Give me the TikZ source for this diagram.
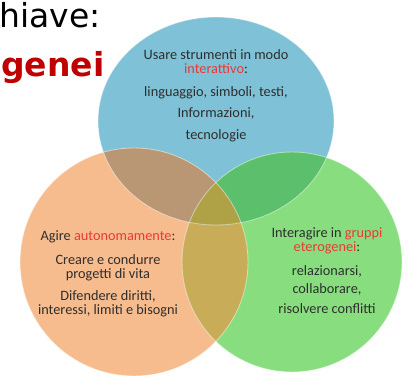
\documentclass[tikz,border=0pt]{standalone}
\usepackage{fontspec}
\setmainfont{Carlito}
\newfontfamily\titlefont{DejaVu Sans}
\usepackage{xcolor}
\definecolor{ink}{HTML}{2E2E2E}
\definecolor{keyword}{HTML}{E63B36}
\definecolor{titlered}{HTML}{C00000}
\definecolor{skyfill}{HTML}{7FC1D6}
\definecolor{peach}{HTML}{F7BC8E}
\definecolor{leaf}{HTML}{88DE7F}
\definecolor{skypeach}{HTML}{B99774}
\definecolor{skyleaf}{HTML}{5BBF6B}
\definecolor{peachleaf}{HTML}{C9AC58}
\definecolor{allthree}{HTML}{AEA146}
\usetikzlibrary{positioning}
\tikzset{
  rim/.style={draw=white, draw opacity=0.45, line width=0.9pt},
  said/.style={align=center, text=ink, inner sep=0pt, anchor=north,
    font=\fontsize{14.3}{14}\selectfont},
  heading/.style={inner sep=0pt, anchor=base west, font=\titlefont\fontsize{33}{36}\selectfont},
}
\newcommand{\kw}[1]{\textcolor{keyword}{#1}}

\begin{document}
\begin{tikzpicture}[x=1pt, y=-1pt]
  \useasboundingbox (0,0) rectangle (411,379);
  \coordinate (sky) at (216,121);
  \coordinate (sun) at (134,262);
  \coordinate (meadow) at (292,262);

  \fill[skyfill] (sky) ellipse [x radius=118pt, y radius=104pt];
  \fill[peach] (sun) circle [radius=114pt];
  \fill[leaf] (meadow) circle [radius=110pt];
  \begin{scope}
    \clip (sun) circle [radius=114pt];
    \fill[peachleaf] (meadow) circle [radius=110pt];
  \end{scope}
  \begin{scope}
    \clip (sky) ellipse [x radius=118pt, y radius=104pt];
    \fill[skypeach] (sun) circle [radius=114pt];
    \fill[skyleaf] (meadow) circle [radius=110pt];
    \clip (sun) circle [radius=114pt];
    \fill[allthree] (meadow) circle [radius=110pt];
  \end{scope}
  \draw[rim] (sky) ellipse [x radius=118pt, y radius=104pt];
  \draw[rim] (sun) circle [radius=114pt];
  \draw[rim] (meadow) circle [radius=110pt];

  \node[said] (strumenti) at (216,49) {Usare strumenti in modo\\
    \kw{interattivo}:\\[9pt] linguaggio, simboli, testi,\\[7pt]
    Informazioni,\\[8pt] tecnologie};
  \node[said] (agire) at (108,230) {Agire \kw{autonomamente}:\\[10pt]
    Creare e condurre\\ progetti di vita\\[8pt]
    Difendere diritti,\\ interessi, limiti e bisogni};
  \node[said] (gruppi) at (327,227) {Interagire in \kw{gruppi}\\
    \kw{eterogenei}:\\[10pt] relazionarsi,\\[4pt] collaborare,\\[6pt]
    risolvere conflitti};

  \node[heading] (chiave) at (-1,28) {hiave:};
  \node[heading, font=\titlefont\bfseries\fontsize{33}{36}\selectfont, text=titlered]
    (genei) at (1,77) {genei};
\end{tikzpicture}
\end{document}
